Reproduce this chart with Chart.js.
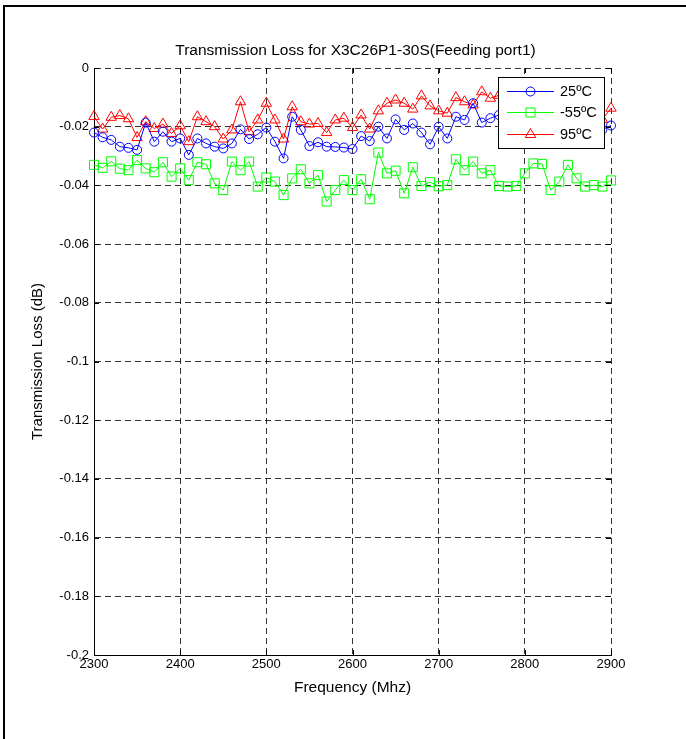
<!DOCTYPE html>
<html>
<head>
<meta charset="utf-8">
<title>Transmission Loss</title>
<script src="https://cdn.jsdelivr.net/npm/chart.js@4.4.1/dist/chart.umd.min.js"></script>
<style>
    html, body { margin: 0; padding: 0; background: #fff; }
    canvas { display: block; }
</style>
</head>
<body>
<canvas id="loss-chart" width="686" height="739"></canvas>
<script>
// frequency points (MHz)
const freqs = [2300, 2310, 2320, 2330, 2340, 2350, 2360, 2370, 2380, 2390,
               2400, 2410, 2420, 2430, 2440, 2450, 2460, 2470, 2480, 2490,
               2500, 2510, 2520, 2530, 2540, 2550, 2560, 2570, 2580, 2590,
               2600, 2610, 2620, 2630, 2640, 2650, 2660, 2670, 2680, 2690,
               2700, 2710, 2720, 2730, 2740, 2750, 2760, 2770, 2780, 2790,
               2800, 2810, 2820, 2830, 2840, 2850, 2860, 2870, 2880, 2890,
               2900];

// transmission loss (dB) per temperature
const loss25 = [-0.022, -0.0236, -0.0245, -0.0268, -0.0272, -0.0279, -0.0186, -0.0251, -0.0217, -0.0251,
                -0.024, -0.0296, -0.024, -0.0257, -0.0268, -0.0274, -0.0257, -0.0209, -0.0242, -0.0226,
                -0.0203, -0.0251, -0.0308, -0.0166, -0.0211, -0.0266, -0.0253, -0.0268, -0.0269, -0.0271,
                -0.0276, -0.0232, -0.0249, -0.020, -0.024, -0.0175, -0.0211, -0.0189, -0.022, -0.026,
                -0.020, -0.024, -0.0166, -0.0177, -0.012, -0.0186, -0.0171, -0.016, -0.017, -0.0185,
                -0.016, -0.018, -0.0175, -0.019, -0.017, -0.0165, -0.018, -0.0175, -0.019, -0.021,
                -0.0196];

const lossM55 = [-0.033, -0.034, -0.0318, -0.0343, -0.0348, -0.0314, -0.0342, -0.0355, -0.0321, -0.037,
                 -0.0342, -0.0382, -0.0321, -0.0328, -0.0393, -0.0416, -0.0319, -0.0348, -0.0319, -0.0404,
                 -0.0373, -0.0387, -0.0433, -0.0376, -0.0345, -0.0393, -0.0365, -0.0455, -0.0416, -0.0382,
                 -0.0416, -0.0379, -0.0447, -0.0288, -0.0359, -0.035, -0.0427, -0.0338, -0.0402, -0.0389,
                 -0.0403, -0.0399, -0.0311, -0.0348, -0.0319, -0.0359, -0.0348, -0.0402, -0.0404, -0.0402,
                 -0.0359, -0.0325, -0.0327, -0.0416, -0.0387, -0.033, -0.0376, -0.0404, -0.0399, -0.0404,
                 -0.0383];

const loss95 = [-0.0165, -0.0208, -0.0168, -0.0162, -0.0173, -0.0237, -0.0183, -0.0206, -0.0191, -0.0223,
                -0.0197, -0.0251, -0.0166, -0.0183, -0.020, -0.0242, -0.0211, -0.0115, -0.0217, -0.0177,
                -0.012, -0.0177, -0.0242, -0.0132, -0.0183, -0.0191, -0.0189, -0.022, -0.0177, -0.0171,
                -0.0203, -0.016, -0.0208, -0.0146, -0.012, -0.0109, -0.012, -0.014, -0.0095, -0.0129,
                -0.0146, -0.0154, -0.0101, -0.0115, -0.0126, -0.0081, -0.0103, -0.0093, -0.0105, -0.0098,
                -0.011, -0.0102, -0.0115, -0.0108, -0.012, -0.0112, -0.0125, -0.0118, -0.013, -0.0175,
                -0.0137];

const seriesNames = ["25ºC", "-55ºC", "95ºC"];

// tick labels
const xTicks = [2300, 2400, 2500, 2600, 2700, 2800, 2900];
const yTicks = [0, -0.02, -0.04, -0.06, -0.08, -0.1, -0.12, -0.14, -0.16, -0.18, -0.2];

const chartTitle = 'Transmission Loss for X3C26P1-30S(Feeding port1)';

Chart.defaults.font.family = "'Liberation Sans', Arial, sans-serif";
Chart.defaults.font.size = 13;
Chart.defaults.color = '#000';

const toPoints = (values) => freqs.map((f, i) => ({ x: f, y: values[i] }));

// title centred over the plot box (not the whole canvas)
const plotTitle = {
    id: 'plotTitle',
    afterDraw(chart) {
        const { ctx, chartArea: a } = chart;
        ctx.save();
        ctx.fillStyle = '#000';
        ctx.font = "15.5px 'Liberation Sans', Arial, sans-serif";
        ctx.textAlign = 'center';
        ctx.textBaseline = 'middle';
        ctx.fillText(chartTitle, (a.left + a.right) / 2 + 3, 51);
        ctx.restore();
    }
};

// small inward tick marks on all four sides, like the original plot
const innerTicks = {
    id: 'innerTicks',
    afterDatasetsDraw(chart) {
        const { ctx, chartArea: a, scales } = chart;
        ctx.save();
        ctx.strokeStyle = '#000';
        ctx.lineWidth = 1;
        ctx.beginPath();
        xTicks.forEach(v => {
            const px = Math.round(scales.x.getPixelForValue(v)) + 0.5;
            ctx.moveTo(px, a.bottom); ctx.lineTo(px, a.bottom - 5);
            ctx.moveTo(px, a.top); ctx.lineTo(px, a.top + 5);
        });
        yTicks.forEach(v => {
            const py = Math.round(scales.y.getPixelForValue(v)) + 0.5;
            ctx.moveTo(a.left, py); ctx.lineTo(a.left + 5, py);
            ctx.moveTo(a.right, py); ctx.lineTo(a.right - 5, py);
        });
        ctx.stroke();
        ctx.restore();
    }
};

// legend box drawn inside the plot area (upper right)
const insideLegend = {
    id: 'insideLegend',
    afterDatasetsDraw(chart) {
        const ctx = chart.ctx;
        const box = { x: 498, y: 77, w: 106, h: 71 };
        ctx.save();
        ctx.fillStyle = '#fff';
        ctx.fillRect(box.x, box.y, box.w, box.h);
        ctx.strokeStyle = '#000';
        ctx.lineWidth = 1;
        ctx.strokeRect(box.x + 0.5, box.y + 0.5, box.w, box.h);

        chart.data.datasets.forEach((ds, i) => {
            const y = Math.round(box.y + 14 + i * 21.3) + 0.5;
            const mx = box.x + 32.5;
            ctx.strokeStyle = ds.borderColor;
            ctx.lineWidth = 1;
            ctx.beginPath();
            ctx.moveTo(box.x + 9, y);
            ctx.lineTo(box.x + 56, y);
            ctx.stroke();

            const r = ds.pointRadius;
            ctx.beginPath();
            if (ds.pointStyle === 'circle') {
                ctx.arc(mx, y, r, 0, Math.PI * 2);
            } else if (ds.pointStyle === 'rect') {
                const s = r * Math.SQRT1_2;
                ctx.rect(mx - s, y - s, s * 2, s * 2);
            } else {
                ctx.moveTo(mx, y - r);
                ctx.lineTo(mx + r * Math.sin(Math.PI * 2 / 3), y - r * Math.cos(Math.PI * 2 / 3));
                ctx.lineTo(mx + r * Math.sin(Math.PI * 4 / 3), y - r * Math.cos(Math.PI * 4 / 3));
                ctx.closePath();
            }
            ctx.stroke();

            ctx.fillStyle = '#000';
            ctx.font = "14.5px 'Liberation Sans', Arial, sans-serif";
            ctx.textBaseline = 'middle';
            ctx.textAlign = 'left';
            ctx.fillText(ds.label, box.x + 62, y);
        });
        ctx.restore();
    }
};

// figure frame lines (top and left)
const frame = {
    id: 'frame',
    afterDraw(chart) {
        const ctx = chart.ctx;
        ctx.save();
        ctx.fillStyle = '#000';
        ctx.fillRect(3, 5, 683, 2);
        ctx.fillRect(3, 5, 2, 734);
        ctx.restore();
    }
};

const lossCanvas = document.getElementById("loss-chart");

let lossChart = new Chart(lossCanvas, {
    type: 'line',
    data: {
        datasets: [{
            label: seriesNames[0],
            data: toPoints(loss25),
            borderColor: '#0000ff',
            borderWidth: 1,
            pointStyle: 'circle',
            pointRadius: 4.5,
            pointBorderColor: '#0000ff',
            pointBackgroundColor: 'rgba(0,0,0,0)',
            pointBorderWidth: 1
        }, {
            label: seriesNames[1],
            data: toPoints(lossM55),
            borderColor: '#00ff00',
            borderWidth: 1,
            pointStyle: 'rect',
            pointRadius: 6.4,
            pointBorderColor: '#00ff00',
            pointBackgroundColor: 'rgba(0,0,0,0)',
            pointBorderWidth: 1
        }, {
            label: seriesNames[2],
            data: toPoints(loss95),
            borderColor: '#ff0000',
            borderWidth: 1,
            pointStyle: 'triangle',
            pointRadius: 6,
            pointBorderColor: '#ff0000',
            pointBackgroundColor: 'rgba(0,0,0,0)',
            pointBorderWidth: 1
        }]
    },
    options: {
        responsive: false,
        animation: false,
        clip: false,
        elements: { line: { tension: 0 } },
        layout: {
            padding: { top: 68, left: 0, right: 75, bottom: 0 }
        },
        scales: {
            x: {
                type: 'linear',
                min: 2300,
                max: 2900,
                afterBuildTicks: scale => { scale.ticks = xTicks.map(v => ({ value: v })); },
                afterFit: scale => { scale.height = 84; },
                ticks: {
                    padding: 2,
                    maxRotation: 0,
                    callback: v => String(v)
                },
                grid: {
                    color: 'rgba(0,0,0,0.8)',
                    lineWidth: 1,
                    drawTicks: false
                },
                border: { display: true, color: '#000', width: 1, dash: [6, 4] },
                title: {
                    display: true,
                    text: 'Frequency (Mhz)',
                    font: { size: 15.5 },
                    padding: { top: 0, bottom: 41.5 }
                }
            },
            y: {
                min: -0.2,
                max: 0,
                afterBuildTicks: scale => { scale.ticks = yTicks.map(v => ({ value: v })); },
                afterFit: scale => { scale.width = 94; },
                ticks: {
                    padding: 5,
                    callback: v => String(v)
                },
                grid: {
                    color: 'rgba(0,0,0,0.8)',
                    lineWidth: 1,
                    drawTicks: false
                },
                border: { display: true, color: '#000', width: 1, dash: [6, 4] },
                title: {
                    display: true,
                    text: 'Transmission Loss (dB)',
                    font: { size: 15 },
                    padding: { top: 29, bottom: 0 }
                }
            }
        },
        plugins: {
            legend: { display: false },
            tooltip: { enabled: false },
            title: { display: false }
        }
    },
    plugins: [innerTicks, insideLegend, plotTitle, frame]
});
</script>
</body>
</html>
